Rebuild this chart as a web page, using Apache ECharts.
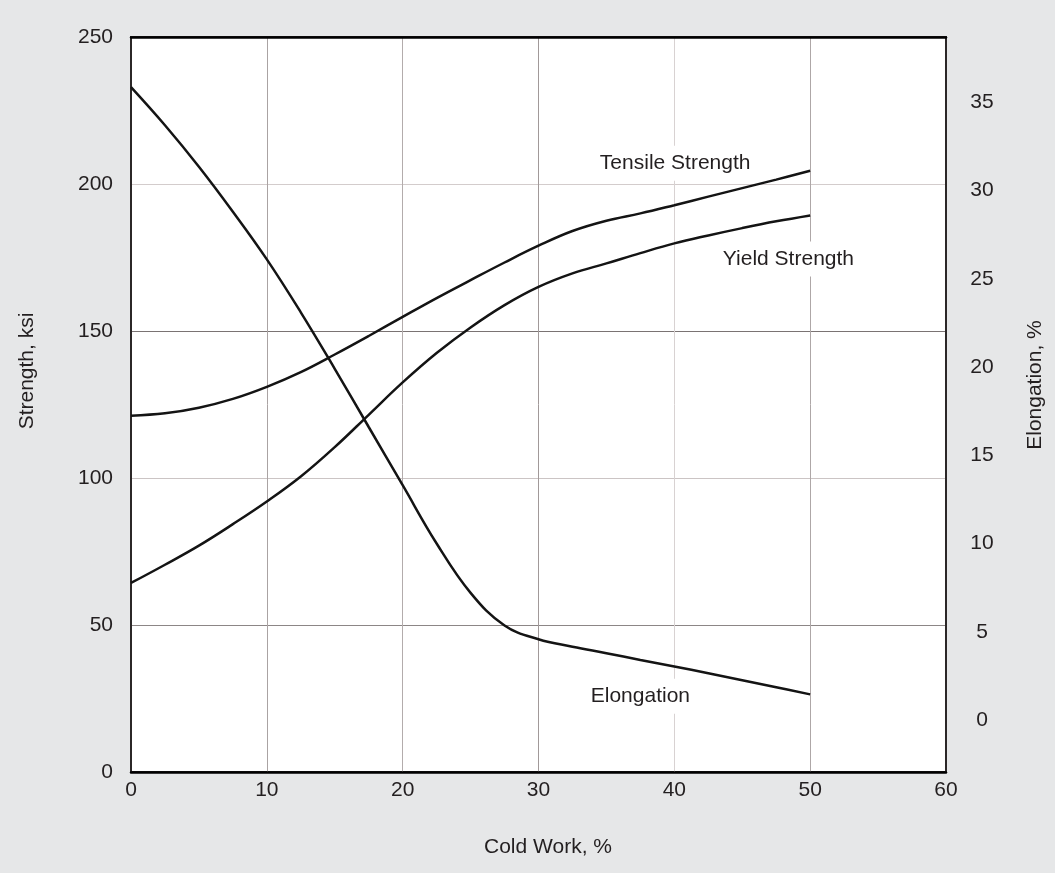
<!DOCTYPE html>
<html><head><meta charset="utf-8">
<script src="https://cdn.jsdelivr.net/npm/echarts@6/dist/echarts.min.js"></script>
<style>html,body{margin:0;padding:0;background:#e6e7e8}#c{width:1055px;height:873px}</style>
</head><body><div id="c"></div>
<script>
// ---- data ----
const coldWork   = [0, 2.5, 5, 7.5, 10, 12.5, 15, 17.5, 20, 22.5, 25, 27.5, 30, 32.5, 35, 37.5, 40, 42.5, 45, 47.5, 50];
const tensile    = [121.2, 122.0, 123.9, 126.9, 131.0, 136.0, 142.0, 148.3, 154.8, 161.2, 167.3, 173.3, 179.0, 184.0, 187.5, 190.0, 192.8, 195.7, 198.6, 201.5, 204.5];
const yieldStr   = [64.3, 70.5, 77.0, 84.3, 92.0, 100.5, 110.5, 121.5, 132.5, 142.5, 151.2, 158.8, 165.0, 169.6, 173.0, 176.5, 179.8, 182.5, 185.0, 187.3, 189.3];
const elongation = [35.86, 33.7, 31.35, 28.8, 26.1, 23.1, 19.9, 16.6, 13.3, 10.0, 7.2, 5.35, 4.57, 4.15, 3.78, 3.4, 3.03, 2.65, 2.25, 1.85, 1.45];
const xTicks = [0, 10, 20, 30, 40, 50, 60];
const strengthTicks = [0, 50, 100, 150, 200, 250];
const elongationTicks = [0, 5, 10, 15, 20, 25, 30, 35];
const curveNames = ['Tensile Strength', 'Yield Strength', 'Elongation'];
const curveLabelAnchors = [[40.06, 207.1], [48.4, 174.5], [37.5, 25.8]]; // cold work, ksi
// ----------------------------------------

const FONT = '"Liberation Sans", Arial, Helvetica, sans-serif';
const TXT = '#231f20';
const FS = 21;
const pairs = (ys) => coldWork.map((x, i) => [x, ys[i]]);
const lineStyle = {color: '#141414', width: 2.5};

const chart = echarts.init(document.getElementById('c'));
chart.setOption({
  animation: false,
  backgroundColor: '#e6e7e8',
  grid: {left: 131, right: 109, top: 37, bottom: 101, show: true, backgroundColor: '#ffffff',
         borderColor: '#2b2727', borderWidth: 2, containLabel: false, outerBoundsMode: 'none'},
  xAxis: [{
    type: 'value', min: xTicks[0], max: xTicks[xTicks.length - 1], interval: 10,
    axisLine: {show: true, onZero: false, lineStyle: {color: '#000', width: 2.5}},
    axisTick: {show: false},
    axisLabel: {margin: 8, color: TXT, fontSize: FS, fontFamily: FONT},
    splitLine: {show: true, lineStyle: {width: 1,
      color: ['#aaa3a3', '#aaa3a3', '#b3acac', '#a19999', '#d8d2d2', '#aea7a7', '#aaa3a3']}}
  }, {
    type: 'value', position: 'top', min: 0, max: 60,
    axisLine: {show: true, onZero: false, lineStyle: {color: '#000', width: 2.5}},
    axisTick: {show: false}, axisLabel: {show: false}, splitLine: {show: false}
  }],
  yAxis: [{
    type: 'value', position: 'left', min: strengthTicks[0], max: strengthTicks[strengthTicks.length - 1], interval: 50,
    axisLine: {show: true, onZero: false, lineStyle: {color: '#2b2727', width: 2}},
    axisTick: {show: false},
    axisLabel: {margin: 18, color: TXT, fontSize: FS, fontFamily: FONT},
    splitLine: {show: true, lineStyle: {width: 1,
      color: ['#8c8686', '#8c8686', '#cbc4c4', '#7a7373', '#d3cccc', '#8c8686']}}
  }, {
    type: 'value', position: 'right', min: -2.95, max: 38.7,
    axisLine: {show: true, onZero: false, lineStyle: {color: '#2b2727', width: 2}},
    axisTick: {show: false},
    splitLine: {show: false},
    axisLabel: {customValues: elongationTicks, align: 'center', margin: 36, color: TXT, fontSize: FS, fontFamily: FONT}
  }],
  graphic: [
    {type: 'text', x: 27, y: 371, rotation: Math.PI / 2,
     style: {text: 'Strength, ksi', fill: TXT, fontSize: FS, fontFamily: FONT, align: 'center', verticalAlign: 'middle', textAlign: 'center', textVerticalAlign: 'middle'}},
    {type: 'text', x: 1035, y: 385, rotation: Math.PI / 2,
     style: {text: 'Elongation, %', fill: TXT, fontSize: FS, fontFamily: FONT, align: 'center', verticalAlign: 'middle', textAlign: 'center', textVerticalAlign: 'middle'}},
    {type: 'text', x: 548, y: 847,
     style: {text: 'Cold Work, %', fill: TXT, fontSize: FS, fontFamily: FONT, align: 'center', verticalAlign: 'middle', textAlign: 'center', textVerticalAlign: 'middle'}}
  ],
  series: [
    {name: curveNames[0], type: 'line', xAxisIndex: 0, yAxisIndex: 0, data: pairs(tensile), showSymbol: false, smooth: 0.4, lineStyle, z: 3},
    {name: curveNames[1], type: 'line', xAxisIndex: 0, yAxisIndex: 0, data: pairs(yieldStr), showSymbol: false, smooth: 0.4, lineStyle, z: 3},
    {name: curveNames[2], type: 'line', xAxisIndex: 0, yAxisIndex: 1, data: pairs(elongation), showSymbol: false, smooth: 0.4, lineStyle, z: 3},
    {type: 'scatter', xAxisIndex: 0, yAxisIndex: 0, silent: true, z: 2,
     data: curveLabelAnchors.map((p, i) => ({name: curveNames[i], value: p})),
     symbolSize: 1, itemStyle: {color: '#ffffff', opacity: 1},
     label: {show: true, position: 'inside', formatter: (p) => p.name, color: TXT, fontSize: FS, fontFamily: FONT,
             textBorderWidth: 0, backgroundColor: '#ffffff', padding: [7, 3]}}
  ]
});
</script></body></html>
